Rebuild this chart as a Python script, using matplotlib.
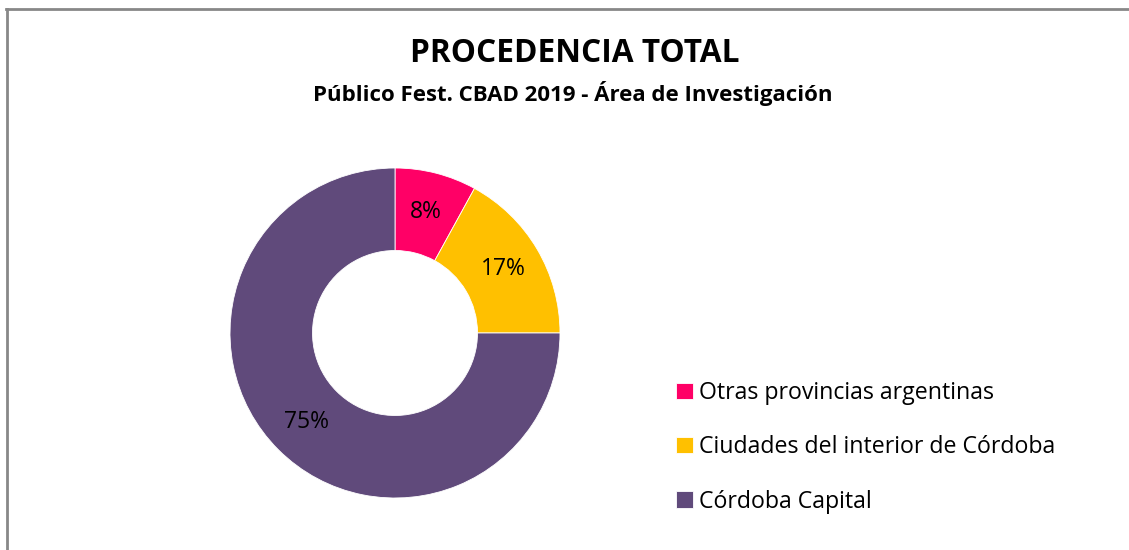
import matplotlib
matplotlib.use("Agg")
import matplotlib.pyplot as plt
from matplotlib.lines import Line2D

categories = ["Otras provincias argentinas", "Ciudades del interior de Córdoba", "Córdoba Capital"]
values = [8, 17, 75]
colors = ["#FF0066", "#FFC000", "#604A7B"]
title = "PROCEDENCIA TOTAL"
subtitle = "Público Fest. CBAD 2019 - Área de Investigación"

W, H = 1129, 550
fig = plt.figure(figsize=(W / 100, H / 100), dpi=100)
fig.patch.set_facecolor("white")
plt.rcParams['font.family'] = ['Open Sans', 'DejaVu Sans']

# border (left and top)
fig.add_artist(Line2D([7 / W, 7 / W], [0, 1 - 9 / H], transform=fig.transFigure, color="#888888", lw=2))
fig.add_artist(Line2D([6 / W, 1], [1 - 9 / H, 1 - 9 / H], transform=fig.transFigure, color="#888888", lw=2))

cx, cy, R = 395, 333, 165
ax = fig.add_axes([(cx - R) / W, (H - cy - R) / H, 2 * R / W, 2 * R / H])
wedges, texts, autotexts = ax.pie(
    values, colors=colors, startangle=90, counterclock=False,
    radius=1.0, wedgeprops=dict(width=0.5, edgecolor="white", linewidth=0.6),
    autopct=lambda p: f"{p:.0f}%", pctdistance=0.76,
    textprops=dict(fontsize=16.5, color="black"))
ax.set_xlim(-1, 1)
ax.set_ylim(-1, 1)
ax.set_aspect("auto")
ax.axis("off")

fig.text(575 / W, 1 - 54 / H, title, ha="center", va="center", fontsize=22.8, fontweight="bold")
fig.text(573 / W, 1 - 94 / H, subtitle, ha="center", va="center", fontsize=16, fontweight="bold")

fig.legend(wedges, categories, loc="upper left", bbox_to_anchor=(667 / W, 1 - 372 / H),
           frameon=False, fontsize=16.7, handlelength=0.7, handleheight=0.7,
           handletextpad=0.3, labelspacing=1.3, borderaxespad=0)

fig.savefig("out.png", dpi=100, facecolor="white")
